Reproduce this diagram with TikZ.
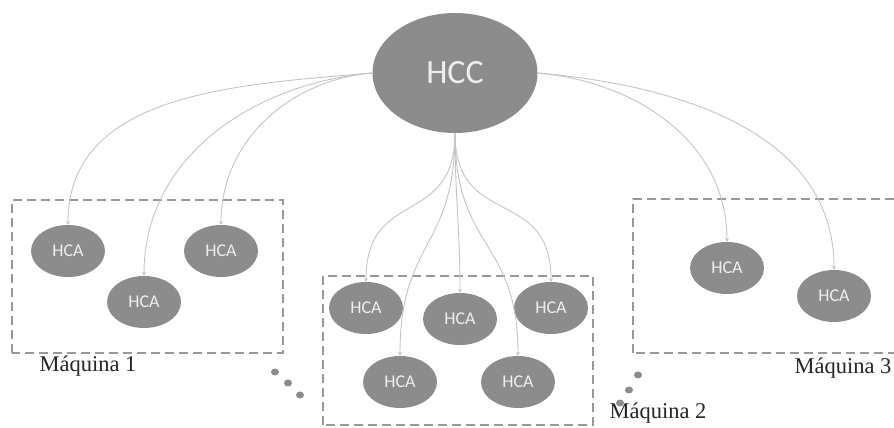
\documentclass[tikz,border=0pt]{standalone}
\usepackage{fontspec}
\newfontfamily\nodefont{Carlito}
\newfontfamily\labfont{Liberation Serif}
\usetikzlibrary{shapes.geometric,arrows.meta}
\definecolor{nodegray}{HTML}{8C8C8C}
\definecolor{edgegray}{HTML}{C4C4C4}
\definecolor{boxgray}{HTML}{989898}
\definecolor{txtlight}{HTML}{EEEEEE}
\tikzset{
  hca/.style={ellipse, fill=nodegray, minimum width=74pt, minimum height=52pt, inner sep=0pt,
    text=txtlight, font=\nodefont\fontsize{18}{18}\selectfont},
  hcc/.style={ellipse, fill=nodegray, minimum width=165pt, minimum height=120pt, inner sep=0pt,
    text=txtlight, font=\nodefont\fontsize{34}{34}\selectfont},
  machbox/.style={draw=boxgray, line width=2.4pt, dash pattern=on 9pt off 5pt},
  link/.style={draw=edgegray, line width=0.9pt, -{Stealth[length=4pt,width=4pt]}},
  maqlabel/.style={font=\labfont\fontsize{22.5}{22.5}\selectfont, text=black!85, inner sep=0pt},
  dotmark/.style={ellipse, fill=nodegray, minimum width=8pt, minimum height=7pt, inner sep=0pt}
}
\begin{document}
\begin{tikzpicture}[x=1pt,y=1pt]
\useasboundingbox (0,0) rectangle (894,428);
\clip (0,0) rectangle (894,428);
% machine boxes
\draw[machbox] (12,75) rectangle (283,228);
\draw[machbox] (323,3) rectangle (593,152);
\draw[machbox] (633,75) rectangle (905,229);
% nodes
\node[hcc] (hcc) at (455,355) {HCC};
\node[hca] (a1) at (68,177) {HCA};
\node[hca] (a2) at (144,126) {HCA};
\node[hca] (a3) at (221,177) {HCA};
\node[hca] (b1) at (366,120) {HCA};
\node[hca] (b2) at (460,109) {HCA};
\node[hca] (b3) at (551,120) {HCA};
\node[hca] (b4) at (400,46) {HCA};
\node[hca] (b5) at (518,46) {HCA};
\node[hca] (c1) at (727,160) {HCA};
\node[hca] (c2) at (834,132) {HCA};
% labels
\node[maqlabel] (m1) at (88,62) {Máquina 1};
\node[maqlabel] (m2) at (658,15) {Máquina 2};
\node[maqlabel] (m3) at (843,60) {Máquina 3};
% dots
\node[dotmark] (d1) at (275,56) {};
\node[dotmark] (d2) at (288,45) {};
\node[dotmark] (d3) at (300,33) {};
\node[dotmark] (d4) at (638,53) {};
\node[dotmark] (d5) at (629,38) {};
\node[dotmark] (d6) at (620,25) {};
% connectors
\draw[link] (hcc.west) to[out=185,in=90] (a1.north);
\draw[link] (hcc.west) to[out=185,in=90] (a2.north);
\draw[link] (hcc.west) to[out=185,in=90] (a3.north);
\draw[link] (hcc.south) to[out=-90,in=90,looseness=1.4] (b1.north);
\draw[link] (hcc.south) to[out=-90,in=90,looseness=1.3] (b4.north);
\draw[link] (hcc.south) to[out=-90,in=90] (b2.north);
\draw[link] (hcc.south) to[out=-90,in=90,looseness=1.3] (b5.north);
\draw[link] (hcc.south) to[out=-90,in=90,looseness=1.4] (b3.north);
\draw[link] (hcc.east) to[out=-5,in=90] (c1.north);
\draw[link] (hcc.east) to[out=-5,in=90] (c2.north);
\end{tikzpicture}
\end{document}
